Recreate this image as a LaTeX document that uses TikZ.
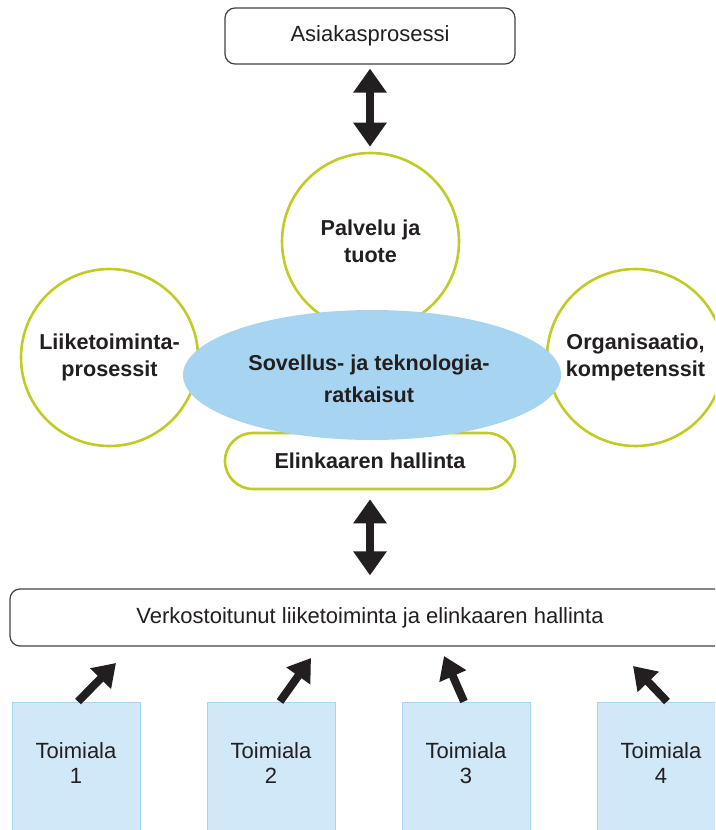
\documentclass[tikz,border=0pt]{standalone}
\usepackage{fontspec}
\setmainfont{Liberation Sans}
\usetikzlibrary{arrows.meta,shapes.geometric}
\definecolor{ringgreen}{HTML}{C0CC25}
\definecolor{coreblue}{HTML}{A7D5F1}
\definecolor{unitfill}{HTML}{D0E8F7}
\definecolor{unitline}{HTML}{A9D5F2}
\definecolor{ink}{HTML}{231F20}
\begin{document}
\begin{tikzpicture}[x=1pt,y=-1pt,
  every node/.style={font=\fontsize{22}{27}\selectfont, text=ink, inner sep=0pt, align=center},
  plainbox/.style={draw=ink!85, line width=1.2pt, rounded corners=10pt, fill=white},
  ring/.style={circle, draw=ringgreen, line width=2.6pt, fill=white, minimum size=177pt,
    font=\fontsize{21.6}{27}\selectfont\bfseries},
  core/.style={ellipse, fill=coreblue, minimum width=378pt, minimum height=130pt},
  corelabel/.style={font=\fontsize{21.6}{32}\selectfont\bfseries},
  pill/.style={draw=ringgreen, line width=2.6pt, fill=white, rounded corners=28pt,
    minimum width=290pt, minimum height=56pt, font=\fontsize{21.6}{27}\selectfont\bfseries},
  unit/.style={draw=unitline, line width=1pt, fill=unitfill, minimum width=128pt, minimum height=132pt},
  unitlabel/.style={font=\fontsize{22}{25}\selectfont},
  bigarrow/.style={draw=ink, line width=8.5pt,
    {Triangle[width=32pt,length=24pt]}-{Triangle[width=32pt,length=24pt]}},
  feed/.style={draw=ink, line width=8pt, -{Triangle[width=28pt,length=22pt]}}
]
\useasboundingbox (0,0) rectangle (715,830);
\clip (0,0) rectangle (715,830);

% customer process on top
\node[plainbox, minimum width=290pt, minimum height=56pt] (cust) at (370,36) {Asiakasprosessi};

% the three rings around the core
\node[ring] (prod) at (370.5,241.5) {Palvelu ja\\tuote};
\node[ring] (proc) at (109.5,357.5) {Liiketoiminta-\\prosessit};
\node[ring] (org) at (635.5,357.5) {Organisaatio,\\kompetenssit};

% life-cycle management band under the core
\node[pill] (life) at (370,461) {Elinkaaren hallinta};

% application and technology core
\node[core] (tech) at (372,375) {};
\node[corelabel] (techtext) at (369,379) {Sovellus- ja teknologia-\\ratkaisut};

% networked business layer
\node[plainbox, minimum width=720pt, minimum height=57pt] (net) at (370,617.5)
  {Verkostoitunut liiketoiminta ja elinkaaren hallinta};

% industries
\foreach \i/\x in {1/76,2/271,3/466,4/661}{
  \node[unit] (u\i) at (\x,768) {};
  \node[unitlabel] (l\i) at (\x,763.5) {Toimiala\\\i};
}

% two-way links
\path[bigarrow, shorten <=4pt, shorten >=5pt] (cust.south) -- (cust.south |- prod.north);
\path[bigarrow, shorten <=9pt, shorten >=13pt] (life.south) -- (life.south |- net.north);

% industry feeds into the network
\coordinate (t1) at (116,663);
\coordinate (t2) at (311,658);
\coordinate (t3) at (444,656);
\coordinate (t4) at (633,666);
\path[feed] ([xshift=2pt]u1.north) -- (t1);
\path[feed] ([xshift=9pt]u2.north) -- (t2);
\path[feed] ([xshift=-2pt]u3.north) -- (t3);
\path[feed] ([xshift=6pt]u4.north) -- (t4);
\end{tikzpicture}
\end{document}
